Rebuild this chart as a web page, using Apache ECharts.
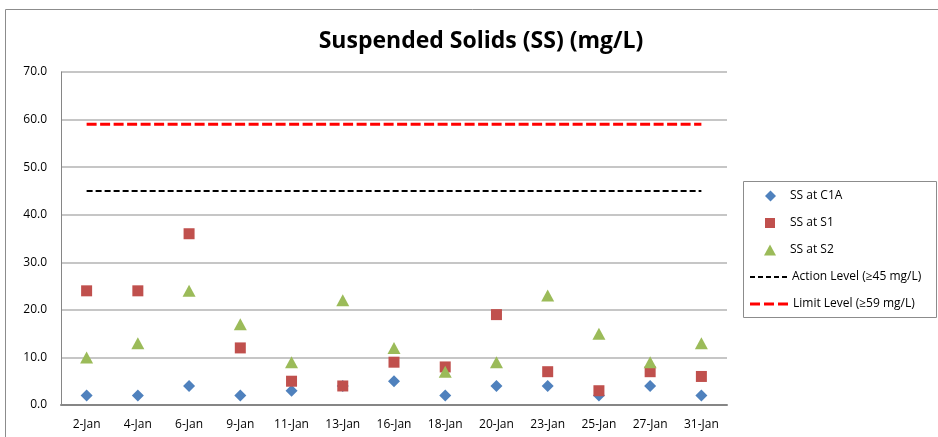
<!DOCTYPE html>
<html><head><meta charset="utf-8">
<script src="https://cdn.jsdelivr.net/npm/echarts@6/dist/echarts.min.js"></script>
<style>html,body{margin:0;padding:0;background:#fff}#c{width:938px;height:437px}</style>
</head><body><div id="c"></div>
<script>
const categories = ['2-Jan','4-Jan','6-Jan','9-Jan','11-Jan','13-Jan','16-Jan','18-Jan','20-Jan','23-Jan','25-Jan','27-Jan','31-Jan'];
const ssC1A = [2,2,4,2,3,4,5,2,4,4,2,4,2];
const ssS1  = [24,24,36,12,5,4,9,8,19,7,3,7,6];
const ssS2  = [10,13,24,17,9,22,12,7,9,23,15,9,13];
const actionLevel = 45;
const limitLevel = 59;
const yTicks = {min:0, max:70, interval:10};

const font = 'Open Sans';
const blackDash = 'path://M0,0h5v2h-5z M8,0h5v2h-5z M16,0h5v2h-5z M24,0h5v2h-5z M32,0h5v2h-5z';
const redDash = 'path://M0,0h10v3h-10z M14,0h10v3h-10z M28,0h10v3h-10z';

function leg(name, icon, top, left, w, h, padLeft){
  return {orient:'vertical', left:left, top:top, padding:0, itemWidth:w, itemHeight:h,
    textStyle:{fontFamily:font, fontSize:12, color:'#000', lineHeight:14, padding:[0,0,0,padLeft]},
    data:[{name:name, icon:icon}]};
}

const chart = echarts.init(document.getElementById('c'));
chart.setOption({
  animation:false,
  textStyle:{fontFamily:font},
  title:{text:'Suspended Solids (SS) (mg/L)', left:476, textAlign:'center', top:25,
    textStyle:{fontFamily:font, fontSize:23, fontWeight:'bold', color:'#000'}},
  graphic:[
    {type:'rect', shape:{x:5.5,y:9.5,width:940,height:440}, style:{fill:null, stroke:'#8c8c8c', lineWidth:1}, silent:true},
    {type:'rect', shape:{x:743.5,y:181.5,width:193,height:136}, style:{fill:null, stroke:'#8c8c8c', lineWidth:1}, silent:true}
  ],
  grid:{left:61, right:211, top:72, bottom:32, containLabel:false},
  legend:[
    leg('SS at C1A','diamond',189,765,11,11,9),
    leg('SS at S1','rect',216,765,10,10,10),
    leg('SS at S2','triangle',243,764,12,11,9),
    leg('Action Level (≥45 mg/L)',blackDash,270,750,37,2,0),
    leg('Limit Level (≥59 mg/L)',redDash,297,750,38,3,0)
  ],
  xAxis:{type:'category', data:categories, boundaryGap:true,
    axisLine:{lineStyle:{color:'#868686', width:2}}, axisTick:{show:false},
    axisLabel:{fontFamily:font, fontSize:12, color:'#000', margin:14}},
  yAxis:{type:'value', min:yTicks.min, max:yTicks.max, interval:yTicks.interval,
    axisLine:{show:true, lineStyle:{color:'#868686', width:1}}, axisTick:{show:false},
    splitLine:{lineStyle:{color:'#b3b3b3', width:1.5}},
    axisLabel:{fontFamily:font, fontSize:12, color:'#000', margin:14, formatter:v=>v.toFixed(1)}},
  series:[
    {name:'Action Level (≥45 mg/L)', type:'line', data:categories.map(()=>actionLevel), symbol:'none',
      lineStyle:{color:'#000', width:2, type:[6,3]}, itemStyle:{color:'#000'}, z:1},
    {name:'Limit Level (≥59 mg/L)', type:'line', data:categories.map(()=>limitLevel), symbol:'none',
      lineStyle:{color:'#ff0000', width:3, type:[10,3.5]}, itemStyle:{color:'#ff0000'}, z:1},
    {name:'SS at C1A', type:'scatter', data:ssC1A, symbol:'diamond', symbolSize:[12,12], itemStyle:{color:'#4F81BD', opacity:1}, z:3},
    {name:'SS at S1', type:'scatter', data:ssS1, symbol:'rect', symbolSize:11, itemStyle:{color:'#C0504D', opacity:1}, z:4},
    {name:'SS at S2', type:'scatter', data:ssS2, symbol:'triangle', symbolSize:[13,12], itemStyle:{color:'#9BBB59', opacity:1}, z:5}
  ]
});
</script></body></html>
